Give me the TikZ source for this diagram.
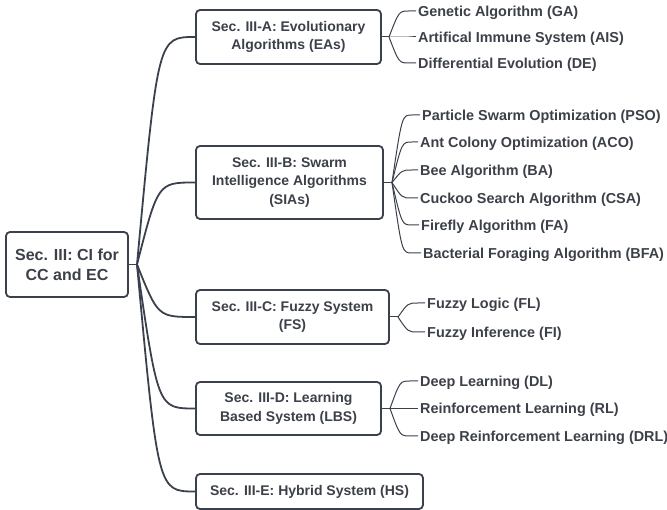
\documentclass[tikz,border=0pt]{standalone}
\usepackage{fontspec}
\setmainfont{Liberation Sans}
\usetikzlibrary{calc}
\definecolor{ink}{RGB}{58,64,76}
\definecolor{txt}{RGB}{60,64,72}
\begin{document}
\begin{tikzpicture}[x=1pt,y=-1pt,
  sec/.style={draw=ink, line width=1.8pt, rounded corners=4pt, inner sep=0pt, align=center, text=txt, font=\fontsize{14}{18.5}\selectfont\bfseries, fill=white},
  leaf/.style={anchor=west, inner sep=0pt, text=txt, font=\fontsize{14.4}{17}\selectfont\bfseries, text height=10.3pt, text depth=0pt},
  trunk/.style={draw=ink, line width=1.8pt},
  twig/.style={draw=ink, line width=1pt}]
\useasboundingbox (0,0) rectangle (667,510);

% root
\node[sec, minimum width=122pt, minimum height=65pt, font=\fontsize{16}{20}\selectfont\bfseries] (root) at (67,264.5) {Sec. III: CI for\\CC and EC};

% sections
\node[sec, minimum width=185pt, minimum height=54pt] (A) at (288.5,37) {Sec. III-A: Evolutionary\\Algorithms (EAs)};
\node[sec, minimum width=187pt, minimum height=73pt] (B) at (289.5,182.5) {Sec. III-B: Swarm\\Intelligence Algorithms\\(SIAs)};
\node[sec, minimum width=193pt, minimum height=54pt] (C) at (292.5,317) {Sec. III-C: Fuzzy System\\(FS)};
\node[sec, minimum width=185pt, minimum height=53pt] (D) at (288.5,408.5) {Sec. III-D: Learning\\Based System (LBS)};
\node[sec, minimum width=227pt, minimum height=35pt] (E) at (309.5,491.5) {Sec. III-E: Hybrid System (HS)};

% trunk connectors
\coordinate (r0) at (137,264.5);
\draw[trunk] (root.east) -- (r0);
\foreach \n in {A,B,C,D,E}{
  \draw[trunk] (r0) .. controls ([xshift=21pt]r0 |- \n.west) .. (\n.west);
}

% hubs
\coordinate (hA) at (389,37);
\coordinate (hB) at (392,182.5);
\coordinate (hC) at (398,317);
\coordinate (hD) at (390,408.5);
\draw[twig] (A.east) -- (hA);
\draw[twig] (B.east) -- (hB);
\draw[twig] (C.east) -- (hC);
\draw[twig] (D.east) -- (hD);

% leaves
\node[leaf] (ga)  at (418,11)  {Genetic Algorithm (GA)};
\node[leaf] (ais) at (418,37)  {Artifical Immune System (AIS)};
\node[leaf] (de)  at (418,63)  {Differential Evolution (DE)};

\node[leaf] (pso) at (422,115) {Particle Swarm Optimization (PSO)};
\node[leaf] (aco) at (420,142) {Ant Colony Optimization (ACO)};
\node[leaf] (ba)  at (420,170) {Bee Algorithm (BA)};
\node[leaf] (csa) at (420,198) {Cuckoo Search Algorithm (CSA)};
\node[leaf] (fa)  at (421,225) {Firefly Algorithm (FA)};
\node[leaf] (bfa) at (423,253) {Bacterial Foraging Algorithm (BFA)};

\node[leaf] (fl)  at (427,303) {Fuzzy Logic (FL)};
\node[leaf] (fi)  at (427,332) {Fuzzy Inference (FI)};

\node[leaf] (dl)  at (420,381) {Deep Learning (DL)};
\node[leaf] (rl)  at (420,408.5) {Reinforcement Learning (RL)};
\node[leaf] (drl) at (420,436) {Deep Reinforcement Learning (DRL)};

% twig connectors
\foreach \h/\c in {hA/ga,hA/ais,hA/de,hB/pso,hB/aco,hB/ba,hB/csa,hB/fa,hB/bfa,hC/fl,hC/fi,hD/dl,hD/rl,hD/drl}{
  \draw[twig] (\h) .. controls ([xshift=10pt]\h |- \c.west) .. ([xshift=20pt]\h |- \c.west) -- ([xshift=-2pt]\c.west);
}
\end{tikzpicture}
\end{document}
